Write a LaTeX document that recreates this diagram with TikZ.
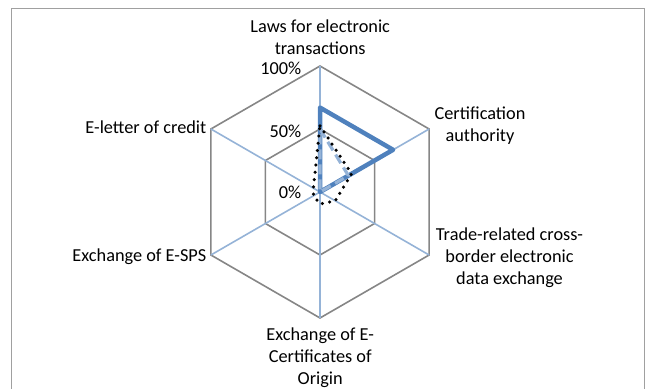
\documentclass[tikz,border=0pt]{standalone}
\usepackage{fontspec}
\setmainfont{Carlito}
\definecolor{gridgray}{HTML}{868686}
\definecolor{spokeblue}{HTML}{95B3D7}
\definecolor{seriesA}{HTML}{4F81BD}
\definecolor{seriesB}{HTML}{95B3D7}
\definecolor{framecol}{HTML}{A0A0A0}
\begin{document}
\begin{tikzpicture}[x=1pt,y=-1pt,
  lbl/.style={font=\fontsize{18.3}{21.9}\selectfont, inner sep=0pt, align=center},
  ring/.style={draw=gridgray, line width=1.6pt, line join=miter},
  spokeline/.style={draw=spokeblue, line width=1.6pt},
  serA/.style={draw=seriesA, line width=4.5pt, line join=round},
  serB/.style={draw=seriesB, line width=3.2pt, line join=round, dash pattern=on 10pt off 5pt},
  serC/.style={draw=black, line width=3.5pt, line cap=round, dash pattern=on 0pt off 7.3pt}]
\useasboundingbox (0,0) rectangle (647,388);
\clip (0,0) rectangle (647,388);
% frame
\draw[framecol, line width=1.6pt] (11.5,400) |- (644.5,8.3) -- (644.5,400);
\begin{scope}[shift={(320,192)}]
  \coordinate (O) at (0,0);
  % rings
  \draw[ring] (-90:126) -- (-30:126) -- (30:126) -- (90:126) -- (150:126) -- (210:126) -- cycle;
  \draw[ring] (-90:63) -- (-30:63) -- (30:63) -- (90:63) -- (150:63) -- (210:63) -- cycle;
  % spokes
  \foreach \a in {-90,-30,30,90,150,210} \draw[spokeline] (O) -- (\a:126);
  % series
  \draw[serA] (-90:84.4) -- (-30:84.4) -- (30:0) -- (90:0) -- (150:0) -- (210:0) -- cycle;
  \draw[serB] (-90:63) -- (-30:32.8) -- (30:0) -- (90:0) -- (150:0) -- (210:0) -- cycle;
  \draw[serC] (-90:66.2) -- (-30:36.5) -- (30:17.6) -- (90:12) -- (150:7.6) -- (210:7.6) -- cycle;
\end{scope}
% labels
\node[lbl] (laws) at (320.2,37.5) {Laws for electronic\\transactions};
\node[lbl, anchor=east] (p100) at (301.5,68) {100\%};
\node[lbl, anchor=east] (p50) at (301.5,131) {50\%};
\node[lbl, anchor=east] (p0) at (301.5,192.3) {0\%};
\node[lbl] (cert) at (480,126) {Certification\\authority};
\node[lbl, anchor=east] (elc) at (206.5,127) {E-letter of credit};
\node[lbl] (trade) at (509.5,257.5) {Trade-related cross-\\border electronic\\data exchange};
\node[lbl, anchor=east] (sps) at (206.5,256.7) {Exchange of E-SPS};
\node[lbl] (origin) at (320.2,357.8) {Exchange of E-\\Certificates of\\Origin};
\end{tikzpicture}
\end{document}
